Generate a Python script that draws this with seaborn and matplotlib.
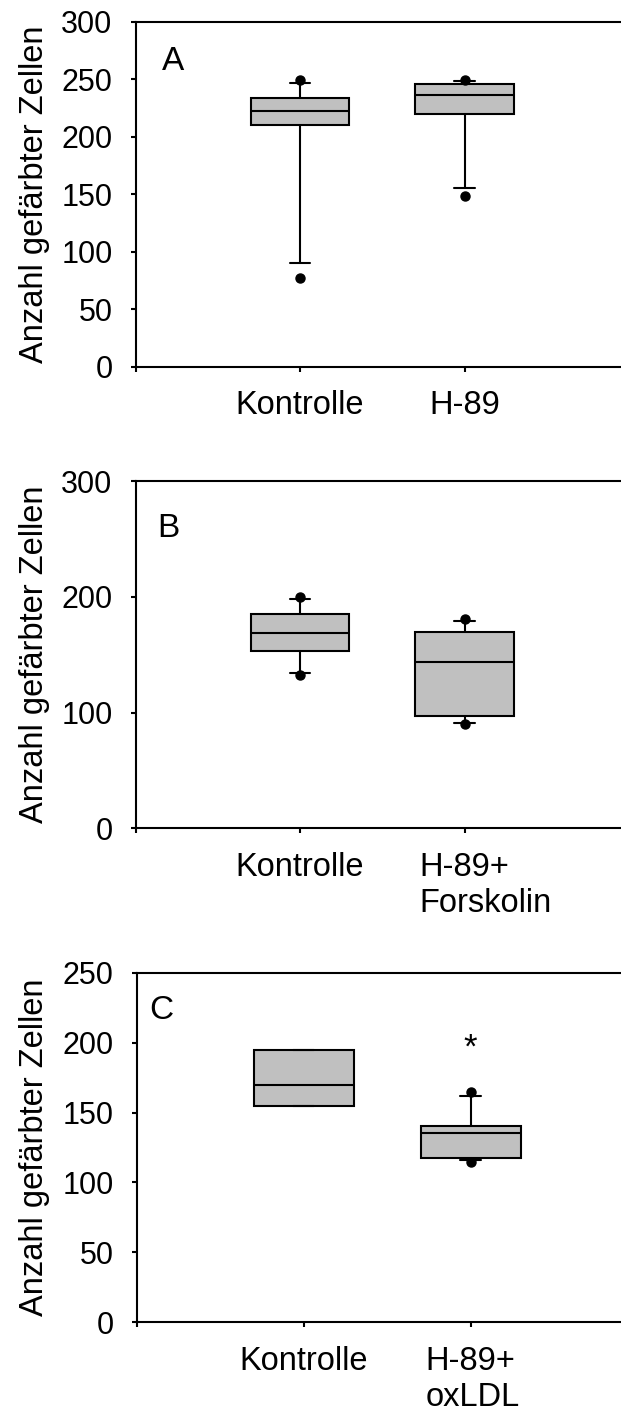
import matplotlib
matplotlib.use("Agg")
import matplotlib.pyplot as plt
from matplotlib.transforms import ScaledTranslation
import seaborn as sns

sns.set_theme(style="ticks")
plt.rcParams["font.family"] = ["Liberation Sans", "DejaVu Sans"]

# ---- Panel A -------------------------------------------------------------
a_labels = ["Kontrolle", "H-89"]
a_whislo = [90, 155.5]
a_q1 = [210, 220]
a_med = [222, 236]
a_q3 = [233.5, 245.5]
a_whishi = [247, 248]
a_fliers = [[77, 249], [148, 249]]
a_yticks = [0, 50, 100, 150, 200, 250, 300]

# ---- Panel B -------------------------------------------------------------
b_labels = ["Kontrolle", "H-89+\nForskolin"]
b_whislo = [134, 91]
b_q1 = [153, 97]
b_med = [168.5, 144]
b_q3 = [185, 170]
b_whishi = [198, 179.5]
b_fliers = [[132.5, 200], [90, 181]]
b_yticks = [0, 100, 200, 300]

# ---- Panel C -------------------------------------------------------------
c_labels = ["Kontrolle", "H-89+\noxLDL"]
c_whislo = [154.5, 116]
c_q1 = [154.5, 117.3]
c_med = [169.5, 135]
c_q3 = [195, 140.3]
c_whishi = [195, 162]
c_fliers = [[], [114.5, 165]]
c_yticks = [0, 50, 100, 150, 200, 250]

YLABEL = "Anzahl gefärbter Zellen"
BOX_FILL = "#c0c0c0"
LW = 1.5

fig = plt.figure(figsize=(6.21, 14.14), dpi=100)

panels = [
    dict(letter="A", labels=a_labels, whislo=a_whislo, q1=a_q1, med=a_med, q3=a_q3,
         whishi=a_whishi, fliers=a_fliers, yticks=a_yticks,
         rect=[0.2182, 0.7407, 0.7952, 0.2440], letter_pos=(0.161, 258), star=None),
    dict(letter="B", labels=b_labels, whislo=b_whislo, q1=b_q1, med=b_med, q3=b_q3,
         whishi=b_whishi, fliers=b_fliers, yticks=b_yticks,
         rect=[0.2182, 0.4142, 0.7952, 0.2456], letter_pos=(0.133, 251.6), star=None),
    dict(letter="C", labels=c_labels, whislo=c_whislo, q1=c_q1, med=c_med, q3=c_q3,
         whishi=c_whishi, fliers=c_fliers, yticks=c_yticks,
         rect=[0.2200, 0.0650, 0.8068, 0.2470], letter_pos=(0.074, 216.8), star=(2, 189)),
]

axes = []
for p in panels:
    ax = fig.add_axes(p["rect"])
    axes.append(ax)
    stats = []
    for i, lab in enumerate(p["labels"]):
        stats.append(dict(label=lab, whislo=p["whislo"][i], q1=p["q1"][i],
                          med=p["med"][i], q3=p["q3"][i], whishi=p["whishi"][i],
                          fliers=p["fliers"][i]))
    ax.bxp(stats, positions=[1, 2], widths=0.6, capwidths=0.126,
           patch_artist=True, manage_ticks=False,
           boxprops=dict(facecolor=BOX_FILL, edgecolor="black", linewidth=LW),
           medianprops=dict(color="black", linewidth=LW),
           whiskerprops=dict(color="black", linewidth=LW),
           capprops=dict(color="black", linewidth=LW),
           flierprops=dict(marker="o", markerfacecolor="black",
                           markeredgecolor="black", markersize=6.5, linestyle="none"))

    ax.set_xlim(0, 3)
    ax.set_ylim(p["yticks"][0], p["yticks"][-1])
    ax.set_yticks(p["yticks"])
    ax.set_xticks([0, 1, 2])
    ax.set_xticklabels([""] + p["labels"])
    ax.set_ylabel(YLABEL, fontsize=23.5, color="black")
    ax.yaxis.set_label_coords(-0.173, 0.5)
    ax.set_facecolor("white")
    ax.grid(False)

    sns.despine(ax=ax, top=False, right=True)
    for side in ("left", "bottom", "top"):
        ax.spines[side].set_color("black")
        ax.spines[side].set_linewidth(LW)

    ax.tick_params(axis="y", direction="out", length=3.6, width=LW, color="black",
                   labelsize=22, labelcolor="black", pad=13)
    ax.tick_params(axis="x", direction="out", length=3.6, width=LW, color="black",
                   labelsize=23.5, labelcolor="black", pad=13.5)

    ax.text(p["letter_pos"][0], p["letter_pos"][1], p["letter"], fontsize=24,
            ha="left", va="baseline", color="black")
    if p["star"] is not None:
        ax.text(p["star"][0], p["star"][1], "*", fontsize=25, ha="center",
                va="baseline", color="black")

# Multi-line category names: left-aligned lines, first line centred on the tick
fig.canvas.draw()
renderer = fig.canvas.get_renderer()
for ax in axes:
    for lab in ax.get_xticklabels():
        txt = lab.get_text()
        if "\n" in txt:
            lab.set_linespacing(1.2)
            first = txt.split("\n")[0]
            probe = ax.text(0, 0, first, fontsize=lab.get_fontsize(),
                            fontfamily=lab.get_fontfamily())
            w = probe.get_window_extent(renderer).width
            probe.remove()
            lab.set_horizontalalignment("left")
            lab.set_multialignment("left")
            lab.set_transform(lab.get_transform() +
                              ScaledTranslation(-w / 2 / fig.dpi, 0, fig.dpi_scale_trans))

fig.savefig("out.png", dpi=100, facecolor="white")
